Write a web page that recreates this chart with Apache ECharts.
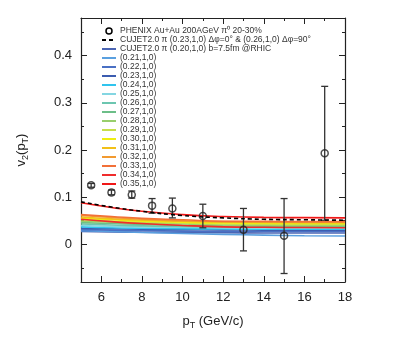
<!DOCTYPE html>
<html><head><meta charset="utf-8">
<script src="https://cdn.jsdelivr.net/npm/echarts@6/dist/echarts.min.js"></script>
<style>html,body{margin:0;padding:0;background:#fff}#c{width:395px;height:345px}</style>
</head><body><div id="c"></div>
<script>
// ---- data ----
const ptExp  = [5.5, 6.5, 7.5, 8.5, 9.5, 11, 13, 15, 17];
const v2Exp  = [0.125, 0.110, 0.105, 0.082, 0.076, 0.060, 0.031, 0.018, 0.193];
const v2Lo   = [0.121, 0.105, 0.098, 0.066, 0.056, 0.035, -0.014, -0.062, 0.051];
const v2Hi   = [0.129, 0.115, 0.113, 0.097, 0.098, 0.085, 0.076, 0.097, 0.335];

const ptModel = [5, 6.5, 8, 10, 12, 14, 16, 18];
const v2Dashed = [0.090, 0.079, 0.070, 0.061, 0.056, 0.053, 0.052, 0.051];
const alphaLabels = ['0.20','0.21','0.22','0.23','0.24','0.25','0.26','0.27','0.28','0.29','0.30','0.31','0.32','0.33','0.34','0.35'];
const v2a020 = [0.027, 0.026, 0.0255, 0.025, 0.0245, 0.024, 0.024, 0.024];
const v2a021 = [0.029, 0.027, 0.025, 0.023, 0.021, 0.0195, 0.018, 0.0175];
const v2a022 = [0.031, 0.030, 0.029, 0.028, 0.0275, 0.027, 0.027, 0.027];
const v2a023 = [0.034, 0.033, 0.032, 0.031, 0.0305, 0.030, 0.030, 0.030];
const v2a024 = [0.037, 0.035, 0.034, 0.033, 0.0325, 0.032, 0.032, 0.032];
const v2a025 = [0.040, 0.038, 0.037, 0.036, 0.035, 0.0345, 0.034, 0.034];
const v2a026 = [0.043, 0.041, 0.039, 0.038, 0.037, 0.0365, 0.036, 0.036];
const v2a027 = [0.046, 0.044, 0.042, 0.040, 0.039, 0.0385, 0.038, 0.038];
const v2a028 = [0.049, 0.047, 0.045, 0.043, 0.041, 0.0405, 0.040, 0.040];
const v2a029 = [0.052, 0.049, 0.047, 0.045, 0.043, 0.0425, 0.042, 0.042];
const v2a030 = [0.055, 0.052, 0.049, 0.047, 0.045, 0.0445, 0.044, 0.044];
const v2a031 = [0.058, 0.054, 0.051, 0.049, 0.047, 0.0465, 0.046, 0.046];
const v2a032 = [0.061, 0.057, 0.053, 0.050, 0.048, 0.0475, 0.047, 0.047];
const v2a033 = [0.063, 0.059, 0.055, 0.052, 0.049, 0.0485, 0.048, 0.048];
const v2a034 = [0.053, 0.048, 0.044, 0.040, 0.037, 0.036, 0.0355, 0.035];
const v2a035 = [0.088, 0.078, 0.070, 0.063, 0.059, 0.057, 0.0565, 0.056];
const alphaValues = [v2a020,v2a021,v2a022,v2a023,v2a024,v2a025,v2a026,v2a027,v2a028,v2a029,v2a030,v2a031,v2a032,v2a033,v2a034,v2a035];
const alphaColors = ['#4c66b4','#5aa0e0','#4a70c4','#3c5cb0','#30c4ee','#84d6e2','#6cc6b0','#6cbe88','#98ce6c','#c6de4c','#eeee10','#f2c018','#f29a30','#f27038','#f02c2c','#f01818'];

const xMajor = [6, 8, 10, 12, 14, 16, 18];
const xMinor = [5, 7, 9, 11, 13, 15, 17];
const yMajor = [0, 0.1, 0.2, 0.3, 0.4];
const yMinor = [-0.05, 0.05, 0.15, 0.25, 0.35, 0.45];

const nameExp = 'PHENIX Au+Au 200AGeV π⁰ 20-30%';
const nameDashed = 'CUJET2.0 π (0.23,1,0) Δφ=0° & (0.26,1,0) Δφ=90°';
const nameFirst = 'CUJET2.0 π (0.20,1,0) b=7.5fm @RHIC';

// ---- chart ----
const FONT = 'Liberation Sans, Arial, sans-serif';
const XMIN = 5, XMAX = 18, YMIN = -0.08, YMAX = 0.48;
const frame = {show: true, onZero: false, lineStyle: {color: '#222', width: 1.2}};
const noLine = {show: false, onZero: false};
function xAx(pos, ticks, len, label, line) {
  return {type: 'value', position: pos, min: XMIN, max: XMAX, splitLine: {show: false},
    axisLine: line ? frame : noLine,
    axisTick: {show: true, inside: true, length: len, customValues: ticks, lineStyle: {color: '#222', width: 1}},
    axisLabel: label ? {show: true, customValues: ticks, fontSize: 13, color: '#222', fontFamily: FONT, margin: 9} : {show: false}};
}
function yAx(pos, ticks, len, label, line) {
  return {type: 'value', position: pos, min: YMIN, max: YMAX, splitLine: {show: false},
    axisLine: line ? frame : noLine,
    axisTick: {show: true, inside: true, length: len, customValues: ticks, lineStyle: {color: '#222', width: 1}},
    axisLabel: label ? {show: true, customValues: ticks, fontSize: 13, color: '#222', fontFamily: FONT, margin: 9,
      formatter: v => (Math.abs(v) < 1e-9 ? '0' : v.toFixed(1))} : {show: false}};
}
const xAxes = [xAx('bottom', xMajor, 6, true, true), xAx('bottom', xMinor, 3, false, false),
               xAx('top', xMajor, 6, false, true), xAx('top', xMinor, 3, false, false)];
xAxes[0].name = 'p{sub|T} (GeV/c)';
xAxes[0].nameLocation = 'middle';
xAxes[0].nameGap = 31;
xAxes[0].nameTextStyle = {fontSize: 13, color: '#222', fontFamily: FONT, rich: {sub: {fontSize: 9, verticalAlign: 'bottom', padding: [8,0,0,0], fontFamily: FONT, color: '#222'}}};
const yAxes = [yAx('left', yMajor, 6, true, true), yAx('left', yMinor, 3, false, false),
               yAx('right', yMajor, 6, false, true), yAx('right', yMinor, 3, false, false)];
yAxes[0].name = 'v{sub|2}(p{sub|T})';
yAxes[0].nameLocation = 'middle';
yAxes[0].nameGap = 51;
yAxes[0].nameRotate = 90;
yAxes[0].nameTextStyle = {fontSize: 13, color: '#222', fontFamily: FONT, rich: {sub: {fontSize: 9, verticalAlign: 'bottom', padding: [8,0,0,0], fontFamily: FONT, color: '#222'}}};

const series = [];
alphaValues.forEach((vals, i) => {
  series.push({
    type: 'line', name: i === 0 ? nameFirst : '(' + alphaLabels[i] + ',1,0)',
    data: ptModel.map((x, k) => [x, vals[k]]),
    smooth: true, symbol: 'none', showSymbol: false, z: 2,
    lineStyle: {color: alphaColors[i], width: 1.6}, itemStyle: {color: alphaColors[i]}
  });
});
series.push({
  type: 'line', name: nameDashed, data: ptModel.map((x, k) => [x, v2Dashed[k]]),
  smooth: true, symbol: 'none', showSymbol: false, z: 4,
  lineStyle: {color: '#000', width: 1.6, type: [4, 3]}, itemStyle: {color: '#000'}
});
series.push({
  type: 'custom', name: 'err', z: 3,
  data: ptExp.map((x, k) => [x, v2Lo[k], v2Hi[k]]),
  renderItem: function (params, api) {
    const lo = api.coord([api.value(0), api.value(1)]);
    const hi = api.coord([api.value(0), api.value(2)]);
    const w = 3.5;
    const st = {stroke: '#333', lineWidth: 1.3};
    return {type: 'group', children: [
      {type: 'line', shape: {x1: lo[0], y1: lo[1], x2: hi[0], y2: hi[1]}, style: st},
      {type: 'line', shape: {x1: lo[0]-w, y1: lo[1], x2: lo[0]+w, y2: lo[1]}, style: st},
      {type: 'line', shape: {x1: hi[0]-w, y1: hi[1], x2: hi[0]+w, y2: hi[1]}, style: st}
    ]};
  }
});
series.push({
  type: 'scatter', name: nameExp, data: ptExp.map((x, k) => [x, v2Exp[k]]),
  symbol: 'circle', symbolSize: 7, z: 5,
  itemStyle: {color: 'rgba(255,255,255,0)', borderColor: '#222', borderWidth: 1.5}
});

const legendData = [{name: nameExp, icon: 'circle', itemStyle: {color: '#fff', borderColor: '#000', borderWidth: 1.5, opacity: 1}},
  {name: nameDashed}, {name: nameFirst}];
for (let i = 1; i < alphaLabels.length; i++) legendData.push({name: '(' + alphaLabels[i] + ',1,0)'});

const chart = echarts.init(document.getElementById('c'), null, {renderer: 'canvas'});
chart.setOption({
  animation: false,
  backgroundColor: '#fff',
  grid: {left: 81, right: 50, top: 18, bottom: 63},
  xAxis: xAxes, yAxis: yAxes,
  legend: {
    orient: 'vertical', left: 96, top: 21.5, itemWidth: 14, itemHeight: 6, itemGap: 0,
    selectedMode: false, data: legendData,
    itemStyle: {opacity: 0},
    textStyle: {fontSize: 8.5, lineHeight: 7, color: '#333', fontFamily: FONT, padding: [0,0,0,-1]}
  },
  series: series
});
</script>
</body></html>
